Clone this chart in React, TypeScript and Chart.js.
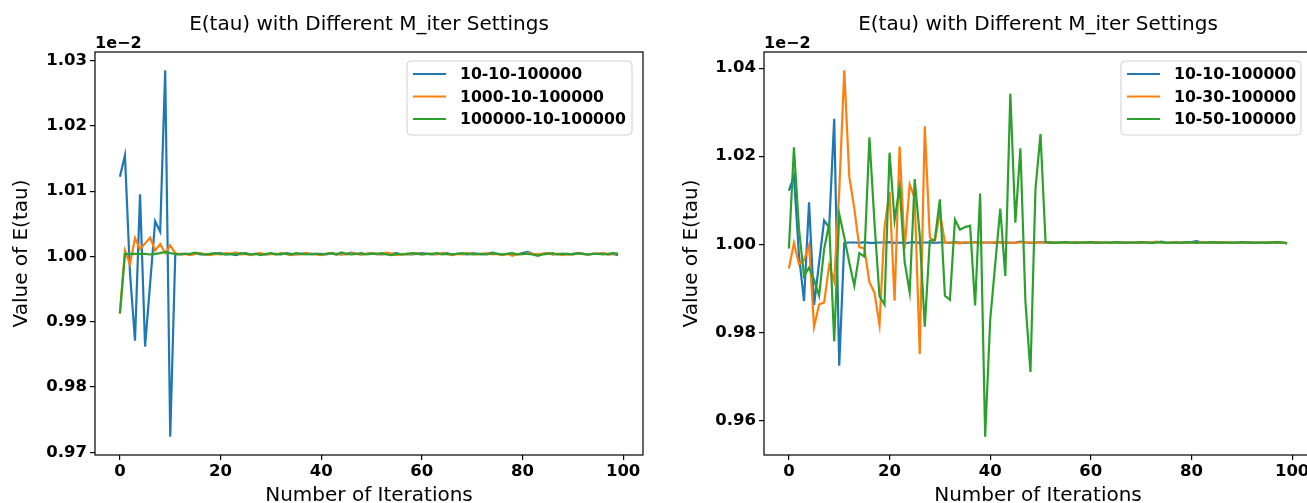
import React, { useEffect, useRef } from "react";
import { Chart, registerables } from "chart.js";

Chart.register(...registerables);

const ITERATIONS = Array.from({ length: 100 }, (_, i) => i);
const X_TICKS = [0, 20, 40, 60, 80, 100];
const LEFT_Y_TICKS = [0.97, 0.98, 0.99, 1.0, 1.01, 1.02, 1.03];
const RIGHT_Y_TICKS = [0.96, 0.98, 1.0, 1.02, 1.04];
const TITLE = "E(tau) with Different M_iter Settings";
const X_LABEL = "Number of Iterations";
const Y_LABEL = "Value of E(tau)";
const OFFSET_TEXT = "1e\u22122";
const LEFT_LABELS = ["10-10-100000", "1000-10-100000", "100000-10-100000"];
const RIGHT_LABELS = ["10-10-100000", "10-30-100000", "10-50-100000"];
const COLORS = ["#1f77b4", "#ff7f0e", "#2ca02c"];

// values shown in units of 1e-2
const M10_10 = [
  1.0122, 1.0155, 0.9975, 0.9871, 1.0095, 0.9862, 0.9958, 1.0054, 1.0038, 1.0285,
  0.9724, 1.0003, 1.0004, 1.0004, 1.0003, 1.0005, 1.0003, 1.0003, 1.0004, 1.0004,
  1.0005, 1.0003, 1.0004, 1.0002, 1.0004, 1.0005, 1.0003, 1.0004, 1.0004, 1.0003,
  1.0004, 1.0004, 1.0003, 1.0005, 1.0004, 1.0003, 1.0004, 1.0005, 1.0003, 1.0004,
  1.0004, 1.0003, 1.0005, 1.0004, 1.0003, 1.0004, 1.0006, 1.0004, 1.0003, 1.0004,
  1.0005, 1.0004, 1.0003, 1.0004, 1.0004, 1.0005, 1.0003, 1.0004, 1.0003, 1.0004,
  1.0005, 1.0004, 1.0003, 1.0004, 1.0004, 1.0005, 1.0003, 1.0004, 1.0004, 1.0003,
  1.0005, 1.0004, 1.0003, 1.0004, 1.0006, 1.0004, 1.0003, 1.0004, 1.0004, 1.0003,
  1.0005, 1.0007, 1.0004, 1.0003, 1.0004, 1.0005, 1.0003, 1.0004, 1.0004, 1.0003,
  1.0004, 1.0005, 1.0004, 1.0003, 1.0004, 1.0004, 1.0005, 1.0003, 1.0004, 1.0002,
];

const M1000_10 = [
  0.9912, 1.0009, 0.9988, 1.0028, 1.0011, 1.002, 1.0029, 1.0009, 1.0019, 1.0005,
  1.0017, 1.0005, 1.0003, 1.0004, 1.0002, 1.0004, 1.0005, 1.0003, 1.0002, 1.0004,
  1.0003, 1.0005, 1.0004, 1.0006, 1.0003, 1.0004, 1.0002, 1.0004, 1.0005, 1.0003,
  1.0004, 1.0003, 1.0005, 1.0004, 1.0002, 1.0004, 1.0003, 1.0005, 1.0004, 1.0003,
  1.0002, 1.0004, 1.0005, 1.0003, 1.0004, 1.0003, 1.0005, 1.0004, 1.0003, 1.0004,
  1.0005, 1.0003, 1.0004, 1.0006, 1.0004, 1.0002, 1.0004, 1.0003, 1.0004, 1.0005,
  1.0003, 1.0004, 1.0004, 1.0003, 1.0005, 1.0004, 1.0002, 1.0004, 1.0003, 1.0005,
  1.0004, 1.0003, 1.0004, 1.0005, 1.0003, 1.0004, 1.0002, 1.0004, 1.0001, 1.0004,
  1.0003, 1.0005, 1.0004, 1.0003, 1.0004, 1.0005, 1.0003, 1.0004, 1.0002, 1.0004,
  1.0003, 1.0005, 1.0004, 1.0003, 1.0004, 1.0004, 1.0005, 1.0003, 1.0004, 1.0004,
];

const M100000_10 = [
  0.9913, 1.0004, 1.0004, 1.0004, 1.0004, 1.0004, 1.0003, 1.0004, 1.0005, 1.0007,
  1.0005, 1.0004, 1.0003, 1.0004, 1.0004, 1.0006, 1.0004, 1.0003, 1.0004, 1.0005,
  1.0004, 1.0003, 1.0004, 1.0003, 1.0005, 1.0004, 1.0003, 1.0004, 1.0002, 1.0004,
  1.0005, 1.0003, 1.0004, 1.0004, 1.0003, 1.0005, 1.0004, 1.0003, 1.0004, 1.0004,
  1.0003, 1.0004, 1.0005, 1.0003, 1.0006, 1.0004, 1.0003, 1.0004, 1.0005, 1.0003,
  1.0004, 1.0004, 1.0005, 1.0003, 1.0002, 1.0004, 1.0003, 1.0004, 1.0005, 1.0004,
  1.0003, 1.0004, 1.0004, 1.0005, 1.0003, 1.0004, 1.0003, 1.0004, 1.0005, 1.0004,
  1.0003, 1.0004, 1.0004, 1.0003, 1.0005, 1.0004, 1.0003, 1.0004, 1.0005, 1.0003,
  1.0004, 1.0004, 1.0003, 1.0001, 1.0003, 1.0004, 1.0005, 1.0003, 1.0004, 1.0004,
  1.0003, 1.0005, 1.0004, 1.0003, 1.0004, 1.0004, 1.0003, 1.0004, 1.0005, 1.0004,
];

const M10_30 = [
  0.9945, 1.0003, 0.9955, 0.9964, 0.9998, 0.9812, 0.9863, 0.9868, 0.9952, 0.9916,
  1.012, 1.0395, 1.0153, 1.0081, 0.9993, 0.9991, 0.9914, 0.989, 0.9817, 1.0039,
  1.0119, 0.9872, 1.0222, 0.999, 1.0136, 1.0104, 0.9751, 1.0268, 1.0016, 1.0006,
  1.0073, 1.0004, 1.0004, 1.0003, 1.0002, 1.0005, 1.0004, 1.0004, 1.0003, 1.0004,
  1.0004, 1.0005, 1.0003, 1.0004, 1.0004, 1.0003, 1.0004, 1.0005, 1.0004, 1.0003,
  1.0004, 1.0004, 1.0005, 1.0003, 1.0004, 1.0004, 1.0003, 1.0005, 1.0004, 1.0003,
  1.0004, 1.0005, 1.0004, 1.0003, 1.0004, 1.0004, 1.0005, 1.0003, 1.0004, 1.0004,
  1.0003, 1.0005, 1.0004, 1.0006, 1.0004, 1.0003, 1.0004, 1.0005, 1.0003, 1.0004,
  1.0004, 1.0003, 1.0005, 1.0004, 1.0003, 1.0004, 1.0005, 1.0004, 1.0003, 1.0004,
  1.0004, 1.0005, 1.0003, 1.0004, 1.0004, 1.0003, 1.0005, 1.0004, 1.0003, 1.0004,
];

const M10_50 = [
  0.999, 1.022, 1.0035, 0.9928, 0.9947, 0.9919, 0.9883, 0.9989, 1.0046, 0.9779,
  1.0069, 1.0016, 0.9958, 0.9906, 0.998, 0.9972, 1.0243, 1.005, 0.9882, 0.9863,
  1.0208, 1.0054, 1.013, 0.996, 0.9891, 1.0148, 1.002, 0.9813, 1.0008, 1.001,
  1.0102, 0.9883, 0.9874, 1.0056, 1.0033, 1.0039, 1.0042, 0.9861, 1.0115, 0.9563,
  0.9828, 0.9955, 1.0081, 0.9928, 1.0342, 1.0049, 1.0218, 0.987, 0.971, 1.0126,
  1.025, 1.0005, 1.0004, 1.0003, 1.0004, 1.0005, 1.0004, 1.0003, 1.0004, 1.0004,
  1.0005, 1.0003, 1.0004, 1.0004, 1.0003, 1.0005, 1.0004, 1.0003, 1.0004, 1.0004,
  1.0005, 1.0004, 1.0003, 1.0004, 1.0005, 1.0003, 1.0004, 1.0004, 1.0003, 1.0005,
  1.0004, 1.0003, 1.0004, 1.0004, 1.0005, 1.0003, 1.0004, 1.0004, 1.0003, 1.0004,
  1.0005, 1.0004, 1.0003, 1.0004, 1.0004, 1.0003, 1.0004, 1.0005, 1.0004, 1.0002,
];

const FONT = '"DejaVu Sans", "Liberation Sans", sans-serif';

type PanelProps = {
  left: number;
  width: number;
  plotLeft: number;
  plotRight: number;
  series: number[][];
  labels: string[];
  yTicks: number[];
  yLabelX: number;
  legendLeft: number;
};

const PLOT_TOP = 52;
const PLOT_BOTTOM = 455;
const HEIGHT = 503;

function Panel(props: PanelProps) {
  const ref = useRef<HTMLCanvasElement | null>(null);
  useEffect(() => {
    const canvas = ref.current;
    if (!canvas) return;
    const all = props.series.flat();
    const dMin = Math.min(...all);
    const dMax = Math.max(...all);
    const m = (dMax - dMin) * 0.05;
    const xm = (ITERATIONS[ITERATIONS.length - 1] - ITERATIONS[0]) * 0.05;

    const decor = {
      id: "decor",
      afterDraw(chart: any) {
        const ctx = chart.ctx as CanvasRenderingContext2D;
        const a = chart.chartArea;
        ctx.save();
        // spines
        ctx.strokeStyle = "#000";
        ctx.lineWidth = 1.2;
        ctx.strokeRect(a.left, a.top, a.right - a.left, a.bottom - a.top);
        ctx.fillStyle = "#000";
        // title
        ctx.font = `20px ${FONT}`;
        ctx.textAlign = "center";
        ctx.textBaseline = "middle";
        const cx = (a.left + a.right) / 2;
        ctx.fillText(TITLE, cx, 25);
        // x label
        ctx.textBaseline = "alphabetic";
        ctx.fillText(X_LABEL, cx, 501);
        // offset text
        ctx.font = `bold 16px ${FONT}`;
        ctx.textAlign = "left";
        ctx.fillText(OFFSET_TEXT, a.left, 48);
        // y label
        ctx.save();
        ctx.font = `20px ${FONT}`;
        ctx.translate(props.yLabelX, (a.top + a.bottom) / 2);
        ctx.rotate(-Math.PI / 2);
        ctx.textAlign = "center";
        ctx.textBaseline = "middle";
        ctx.fillText(Y_LABEL, 0, 0);
        ctx.restore();
        // legend
        const bx = props.legendLeft;
        const by = 61;
        const bw = a.right - 11 - bx;
        const bh = 74;
        const r = 4;
        ctx.beginPath();
        ctx.moveTo(bx + r, by);
        ctx.lineTo(bx + bw - r, by);
        ctx.arcTo(bx + bw, by, bx + bw, by + r, r);
        ctx.lineTo(bx + bw, by + bh - r);
        ctx.arcTo(bx + bw, by + bh, bx + bw - r, by + bh, r);
        ctx.lineTo(bx + r, by + bh);
        ctx.arcTo(bx, by + bh, bx, by + bh - r, r);
        ctx.lineTo(bx, by + r);
        ctx.arcTo(bx, by, bx + r, by, r);
        ctx.closePath();
        ctx.fillStyle = "rgba(255,255,255,0.8)";
        ctx.fill();
        ctx.strokeStyle = "#d0d0d0";
        ctx.lineWidth = 1;
        ctx.stroke();
        ctx.font = `bold 15.7px ${FONT}`;
        ctx.textBaseline = "middle";
        ctx.textAlign = "left";
        props.labels.forEach((lab, i) => {
          const yy = 74 + i * 22.5;
          ctx.strokeStyle = COLORS[i];
          ctx.lineWidth = 2.2;
          ctx.beginPath();
          ctx.moveTo(bx + 6, yy);
          ctx.lineTo(bx + 39, yy);
          ctx.stroke();
          ctx.fillStyle = "#000";
          ctx.fillText(lab, bx + 53, yy + 1);
        });
        ctx.restore();
      },
    };

    const chart = new Chart(canvas, {
      type: "line",
      data: {
        datasets: props.series.map((s, i) => ({
          label: props.labels[i],
          data: s.map((v, k) => ({ x: ITERATIONS[k], y: v })),
          borderColor: COLORS[i],
          backgroundColor: COLORS[i],
          borderWidth: 2.2,
          pointRadius: 0,
          tension: 0,
          fill: false,
          order: props.series.length - i,
        })),
      },
      options: {
        responsive: false,
        animation: false,
        devicePixelRatio: 1,
        layout: {
          padding: { top: PLOT_TOP, right: props.width - props.plotRight, left: 0, bottom: 0 },
        },
        plugins: {
          legend: { display: false },
          tooltip: { enabled: false },
          title: { display: false },
        },
        scales: {
          x: {
            type: "linear",
            min: ITERATIONS[0] - xm,
            max: ITERATIONS[ITERATIONS.length - 1] + xm,
            afterBuildTicks: (s: any) => {
              s.ticks = X_TICKS.map((v) => ({ value: v }));
            },
            afterFit: (s: any) => {
              s.height = HEIGHT - PLOT_BOTTOM;
            },
            grid: { drawOnChartArea: false, drawTicks: true, tickLength: 5, color: "#000", lineWidth: 1.2 },
            border: { display: false },
            ticks: {
              color: "#000",
              font: { family: FONT, size: 16.5, weight: "bold" },
              padding: 2,
              maxRotation: 0,
              autoSkip: false,
              callback: (v: any) => String(v),
            },
          },
          y: {
            type: "linear",
            min: dMin - m,
            max: dMax + m,
            afterBuildTicks: (s: any) => {
              s.ticks = props.yTicks.map((v) => ({ value: v }));
            },
            afterFit: (s: any) => {
              s.width = props.plotLeft;
            },
            grid: { drawOnChartArea: false, drawTicks: true, tickLength: 5, color: "#000", lineWidth: 1.2 },
            border: { display: false },
            ticks: {
              color: "#000",
              font: { family: FONT, size: 16.5, weight: "bold" },
              padding: 3,
              autoSkip: false,
              callback: (v: any) => Number(v).toFixed(2),
            },
          },
        },
      },
      plugins: [decor],
    } as any);
    return () => chart.destroy();
  }, []);
  return (
    <canvas
      ref={ref}
      width={props.width}
      height={HEIGHT}
      style={{ position: "absolute", left: props.left, top: 0, width: props.width, height: HEIGHT }}
    />
  );
}

export default function App() {
  return (
    <div
      style={{
        position: "fixed",
        left: 0,
        top: 0,
        width: 1307,
        height: 503,
        overflow: "hidden",
        background: "#fff",
      }}
    >
      <Panel
        left={0}
        width={655}
        plotLeft={95}
        plotRight={643}
        series={[M10_10, M1000_10, M100000_10]}
        labels={LEFT_LABELS}
        yTicks={LEFT_Y_TICKS}
        yLabelX={22}
        legendLeft={407}
      />
      <Panel
        left={655}
        width={665}
        plotLeft={109}
        plotRight={657}
        series={[M10_10, M10_30, M10_50]}
        labels={RIGHT_LABELS}
        yTicks={RIGHT_Y_TICKS}
        yLabelX={37}
        legendLeft={1121 - 655}
      />
    </div>
  );
}
